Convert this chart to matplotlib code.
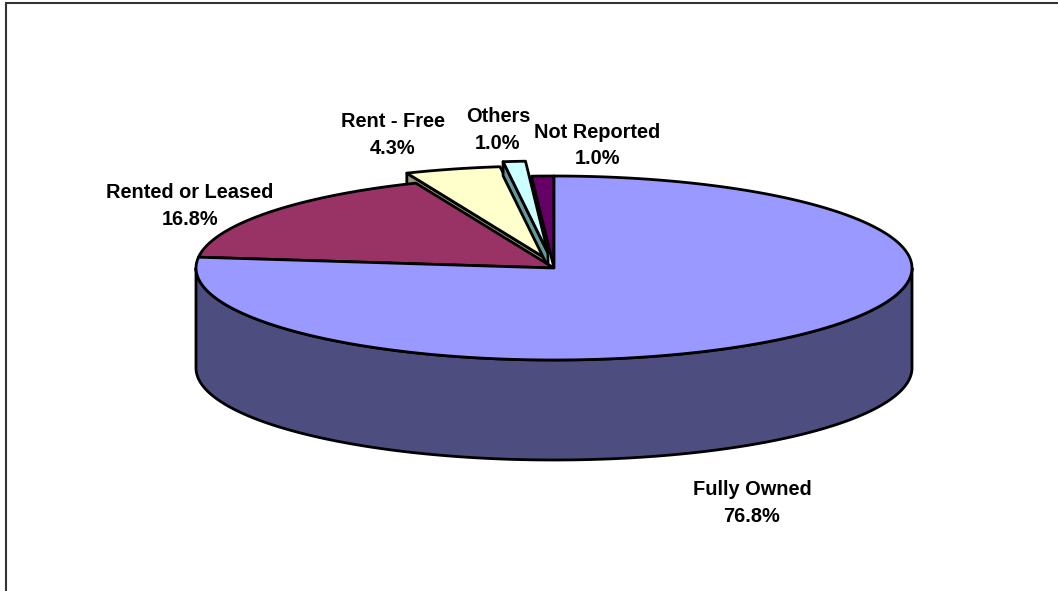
import numpy as np
import matplotlib
matplotlib.use('Agg')
import matplotlib.pyplot as plt
from matplotlib.patches import Polygon

plt.rcParams['font.family'] = ['Liberation Sans', 'DejaVu Sans']

# data, clockwise from 12 o'clock
names = ['Fully Owned', 'Rented or Leased', 'Rent - Free', 'Others', 'Not Reported']
values = [76.8, 16.8, 4.3, 1.0, 1.0]

top_colors = ['#9999ff', '#993366', '#ffffcc', '#ccffff', '#660066']
side_colors = ['#4d4d80', '#4d1a33', '#99997a', '#669999', '#330033']
explode_x = [0, 0, -9, -6, 0]
explode_y = [0, 0, -10, -15, 0]
label_x = [752, 190, 393, 498, 597]
label_y = [503, 206, 135, 130, 145.5]

# pie geometry in pixels
CX, CY = 554, 268
RX, RY = 358, 92
DEPTH = 100
CUT_DEPTH = 14


def rim(start, end, dx=0, dy=0):
    t = np.radians(np.linspace(start, end, 200))
    return np.column_stack([CX + dx + RX * np.sin(t), CY + dy - RY * np.cos(t)])


fig = plt.figure(figsize=(10.58, 5.91), dpi=100)
ax = fig.add_axes([0, 0, 1, 1])
ax.set_xlim(0, 1058)
ax.set_ylim(591, 0)
ax.axis('off')

# chart frame, only top and left are in the picture
ax.plot([6, 6, 1058], [591, 2.5, 2.5], color='#333333', lw=1.5, solid_joinstyle='miter')

edges = np.cumsum([0] + values) / sum(values) * 360
line = dict(edgecolor='black', lw=2, joinstyle='round')

# small slices first, the big ones cover their lower ends
for i in [2, 3, 4, 1]:
    dx, dy = explode_x[i], explode_y[i]
    apex = np.array([CX + dx, CY + dy])
    arc = rim(edges[i], edges[i + 1], dx, dy)
    if i in (2, 3):
        # cut face along the left radial edge
        face = np.array([arc[0], apex, apex + [0, CUT_DEPTH], arc[0] + [0, CUT_DEPTH]])
        ax.add_patch(Polygon(face, closed=True, facecolor=side_colors[i], **line))
    ax.add_patch(Polygon(np.vstack([apex, arc]), closed=True, facecolor=top_colors[i], **line))

# outer wall of the big slice, front half of the ellipse only
front = rim(90, 270)
wall = np.vstack([front, (front + [0, DEPTH])[::-1]])
ax.add_patch(Polygon(wall, closed=True, facecolor=side_colors[0], **line))

ax.add_patch(Polygon(np.vstack([[CX, CY], rim(edges[0], edges[1])]), closed=True,
                     facecolor=top_colors[0], **line))

for i in range(len(names)):
    ax.text(label_x[i], label_y[i], '%s\n%.1f%%' % (names[i], values[i]),
            ha='center', va='center', fontsize=14.4, fontweight='bold',
            color='black', linespacing=1.48)

fig.savefig('out.png', dpi=100, facecolor='white')
